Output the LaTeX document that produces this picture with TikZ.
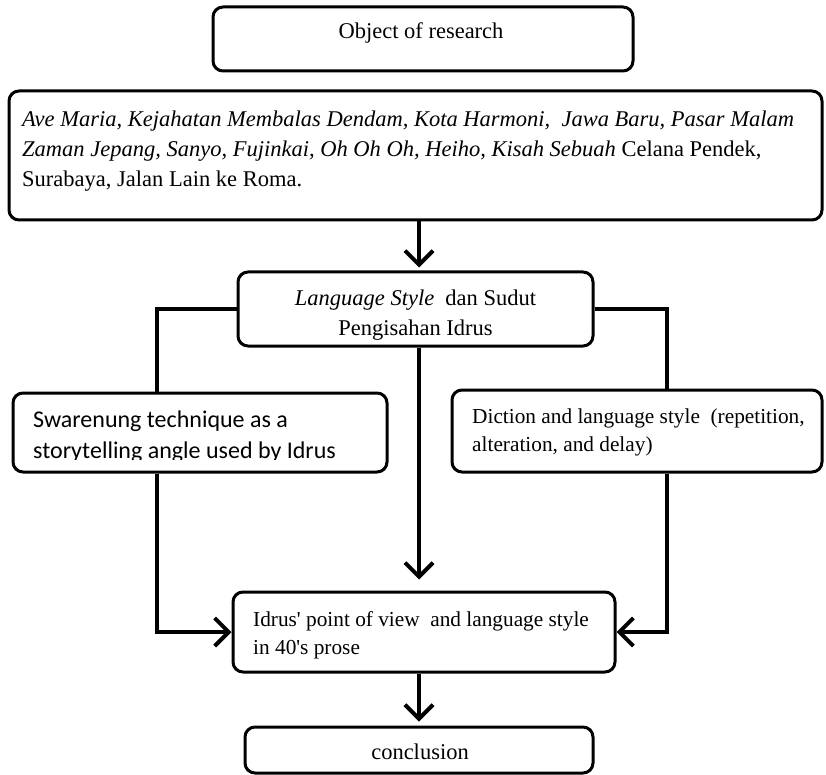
\documentclass[tikz,border=0pt]{standalone}
\usepackage{fontspec}
\setmainfont{Liberation Serif}
\newfontfamily\calfont{Carlito}
\usetikzlibrary{arrows.meta}
\begin{document}
\begin{tikzpicture}[x=1pt,y=-1pt,
  box/.style={draw, line width=3pt, rounded corners=10pt, inner sep=0pt, fill=white},
  conn/.style={line width=4pt},
  arr/.style={line width=4pt, -{Straight Barb[length=14pt,width=28pt]}},
  txt/.style={font=\fontsize{22.5}{30}\selectfont, inner sep=0pt, align=left},
  ctxt/.style={font=\fontsize{22.5}{30}\selectfont, inner sep=0pt, align=center},
  smtxt/.style={font=\fontsize{21.3}{28}\selectfont, inner sep=0pt, align=left},
  stxt/.style={font=\calfont\fontsize{24}{31}\selectfont, inner sep=0pt, align=left}]
\useasboundingbox (0,0) rectangle (826,775);
% boxes
\node[box, minimum width=420pt, minimum height=64pt] (obj) at (423,39) {};
\node[box, minimum width=813pt, minimum height=129pt] (big) at (415.5,155.5) {};
\node[box, minimum width=355pt, minimum height=74pt] (lang) at (415.5,309) {};
\node[box, minimum width=374pt, minimum height=79pt] (swar) at (200,432.5) {};
\node[box, minimum width=370pt, minimum height=82pt] (dic) at (637,431) {};
\node[box, minimum width=382pt, minimum height=80pt] (idrus) at (424,632) {};
\node[box, minimum width=348pt, minimum height=46pt] (concl) at (419,750) {};
% texts
\node[ctxt] (objt) at (421,33) {Object of research};
\node[txt, anchor=west] (bigt) at (22,151) {\textit{Ave Maria, Kejahatan Membalas Dendam, Kota Harmoni,\ \ Jawa Baru, Pasar Malam}\\
\textit{Zaman Jepang, Sanyo, Fujinkai, Oh Oh Oh, Heiho, Kisah Sebuah} Celana Pendek,\\
Surabaya, Jalan Lain ke Roma.};
\node[ctxt] (langt) at (415.5,315) {\textit{Language Style}\ \ dan Sudut\\Pengisahan Idrus};
\begin{scope}
\clip (13,393) rectangle (387,459);
\node[stxt, anchor=west] (swart) at (33,437) {Swarenung technique as a\\storytelling angle used by Idrus};
\end{scope}
\node[smtxt, anchor=west] (dict) at (472,432) {Diction and language style\ \ (repetition,\\alteration, and delay)};
\node[smtxt, anchor=west] (idrust) at (253,635) {Idrus\textquotesingle\ point of view\ \ and language style\\in 40\textquotesingle s prose};
\node[ctxt] (conclt) at (420,752) {conclusion};
% connectors
\coordinate (spine) at (419,0);
\coordinate (lx) at (157,306);
\coordinate (rx) at (667,306);
\draw[arr, shorten >=3pt] (big.south -| spine) -- (lang.north -| spine);
\draw[conn] (lang.west) -- (lang.west -| lx) -- (swar.north -| lx);
\draw[conn] (lang.east) -- (lang.east -| rx) -- (dic.north -| rx);
\draw[arr, shorten >=11pt] (lang.south -| spine) -- (idrus.north -| spine);
\draw[arr] (swar.south -| lx) |- (idrus.west);
\draw[arr] (dic.south -| rx) |- (idrus.east);
\draw[arr, shorten >=4pt] (idrus.south -| spine) -- (concl.north -| spine);
\end{tikzpicture}
\end{document}
